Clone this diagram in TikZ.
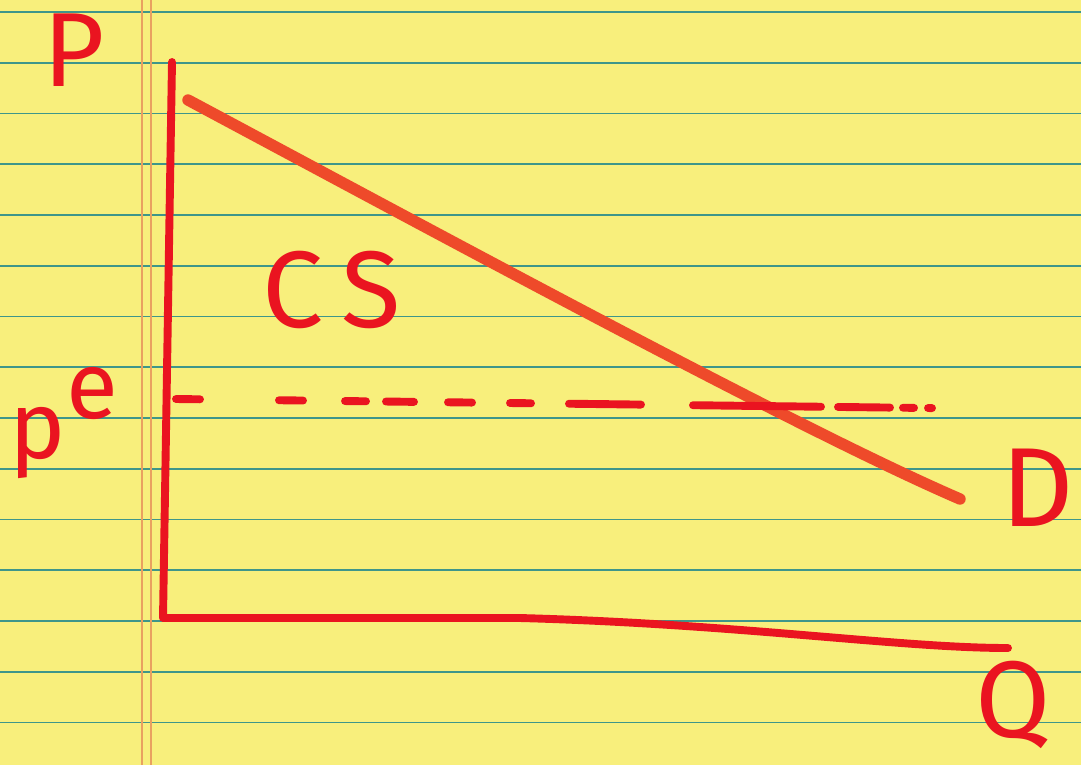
\documentclass[tikz,border=0pt]{standalone}
\usepackage{fontspec}
\setmainfont{Fira Sans}
\usepackage{xcolor}
\usetikzlibrary{calc}

\definecolor{paper}{HTML}{F8EF7C}
\definecolor{ruleteal}{HTML}{3F968A}
\definecolor{marginorange}{HTML}{E9A160}
\definecolor{inkred}{HTML}{EA1420}
\definecolor{demandred}{HTML}{EE4A2A}

\begin{document}
\begin{tikzpicture}[
    x=0.02cm, y=-0.02cm,
    rule/.style={draw=ruleteal, line width=1pt},
    margin/.style={draw=marginorange, line width=0.7pt},
    ink/.style={draw=inkred, line width=4.5pt, line cap=round, line join=round},
    demand/.style={draw=demandred, line width=6.5pt, line cap=round},
    pedash/.style={draw=inkred, line width=4.5pt, line cap=round},
    lbl/.style={text=inkred, font=\fontsize{#1}{#1}\selectfont, inner sep=0pt}
]
% paper
\useasboundingbox (0,0) rectangle (1081,765);
\fill[paper] (0,0) rectangle (1081,765);
\foreach \k in {0,...,14}
    \draw[rule] (0,{12+50.75*\k}) -- (1081,{12+50.75*\k});
\draw[margin] (142,0) -- (142,765);
\draw[margin] (151,0) -- (151,765);

% axes
\coordinate (ptop) at (172,62);
\coordinate (orig) at (163,618);
\coordinate (qend) at (1008,648);
\draw[ink] (ptop) -- (orig) -- (520,618) .. controls (740,624) and (900,648) .. (qend);

% demand
\coordinate (dtop) at (188,100);
\coordinate (dend) at (960,499);
\draw[demand] (dtop) .. controls (450,240) and (800,430) .. (dend);

% equilibrium price
\foreach \a/\b in {176/200, 279/303, 345/366, 386/414, 448/472, 510/531, 569/641, 693/821, 838/890, 903/914, 928/932}
    \draw[pedash] (\a,{399+0.012*(\a-176)}) -- (\b,{399+0.012*(\b-176)});

% labels
\node[lbl=60] (lblP) at (74,50) {P};
\node[lbl=54] (lblPe) at (64,423) {p\raisebox{0.42em}{e}};
\node[lbl=62] (lblCS) at (332,290) {C\,S};
\node[lbl=64] (lblD) at (1038,488) {D};
\node[lbl=62] (lblQ) at (1013,705) {Q};

\end{tikzpicture}
\end{document}
